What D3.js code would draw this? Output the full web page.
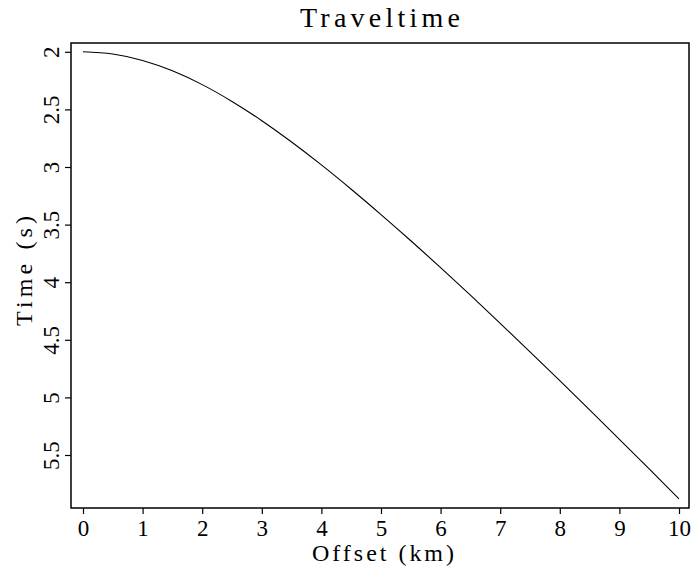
<!DOCTYPE html>
<html>
<head>
<meta charset="utf-8">
<script src="https://cdn.jsdelivr.net/npm/d3@7"></script>
<style>
  body { margin: 0; background: #fff; }
  svg { display: block; }
  text { font-family: "Liberation Serif", "DejaVu Serif", serif; fill: #000; font-weight: normal; }
</style>
</head>
<body>
<svg width="699" height="569"></svg>
<script>
// offsets (km) and picked traveltimes (s)
const offsets = [0, 0.5, 1, 1.5, 2, 2.5, 3, 3.5, 4, 4.5, 5, 5.5, 6, 6.5, 7, 7.5, 8, 8.5, 9, 9.5, 10];
const times = [2.0, 2.019, 2.075, 2.165, 2.285, 2.431, 2.598, 2.783, 2.982, 3.193, 3.413,
  3.640, 3.874, 4.113, 4.357, 4.605, 4.855, 5.108, 5.364, 5.621, 5.881];

const xTicks = [0, 1, 2, 3, 4, 5, 6, 7, 8, 9, 10];
const yTicks = [2, 2.5, 3, 3.5, 4, 4.5, 5, 5.5];

const svg = d3.select('svg');
const frame = { left: 71, right: 689, top: 43, bottom: 508 };

let x = d3.scaleLinear().domain([0, 10]).range([83, 679]);
let y = d3.scaleLinear().domain([2, 5.5]).range([51.8, 455]);

// frame
svg.append('rect')
  .attr('x', frame.left)
  .attr('y', frame.top)
  .attr('width', frame.right - frame.left)
  .attr('height', frame.bottom - frame.top)
  .attr('fill', 'none')
  .attr('stroke', '#000')
  .attr('stroke-width', 1.5);

// bottom axis
let xAxis = svg.append('g')
  .attr('transform', `translate(0,${frame.bottom})`)
  .call(d3.axisBottom(x).tickValues(xTicks).tickSize(6).tickPadding(6).tickFormat(d3.format('d')));
xAxis.select('.domain').remove();
xAxis.selectAll('line').attr('stroke', '#000').attr('stroke-width', 1.2);
xAxis.selectAll('text')
  .attr('font-size', 23)
  .attr('font-family', '"Liberation Serif", serif');

// left axis, labels rotated
let yAxis = svg.append('g')
  .attr('transform', `translate(${frame.left},0)`)
  .call(d3.axisLeft(y).tickValues(yTicks).tickSize(6).tickFormat(d => String(d)));
yAxis.select('.domain').remove();
yAxis.selectAll('line').attr('stroke', '#000').attr('stroke-width', 1.2);
yAxis.selectAll('text')
  .attr('font-size', 23)
  .attr('font-family', '"Liberation Serif", serif')
  .attr('x', null)
  .attr('dy', null)
  .attr('text-anchor', 'middle')
  .attr('transform', 'translate(-12,0) rotate(-90)');

// traveltime curve
let line = d3.line()
  .x((d, i) => x(offsets[i]))
  .y(d => y(d))
  .curve(d3.curveMonotoneX);

svg.append('path')
  .datum(times)
  .attr('d', line)
  .attr('fill', 'none')
  .attr('stroke', '#000')
  .attr('stroke-width', 1.1);

// titles
svg.append('text')
  .attr('x', 380)
  .attr('y', 27)
  .attr('text-anchor', 'middle')
  .attr('font-size', 28)
  .attr('textLength', 160)
  .attr('lengthAdjust', 'spacing')
  .text('Traveltime');

svg.append('text')
  .attr('x', 383)
  .attr('y', 561)
  .attr('text-anchor', 'middle')
  .attr('font-size', 24)
  .attr('textLength', 142)
  .attr('lengthAdjust', 'spacing')
  .text('Offset (km)');

svg.append('text')
  .attr('transform', 'translate(32,271) rotate(-90)')
  .attr('text-anchor', 'middle')
  .attr('font-size', 24)
  .attr('textLength', 110)
  .attr('lengthAdjust', 'spacing')
  .text('Time (s)');
</script>
</body>
</html>
